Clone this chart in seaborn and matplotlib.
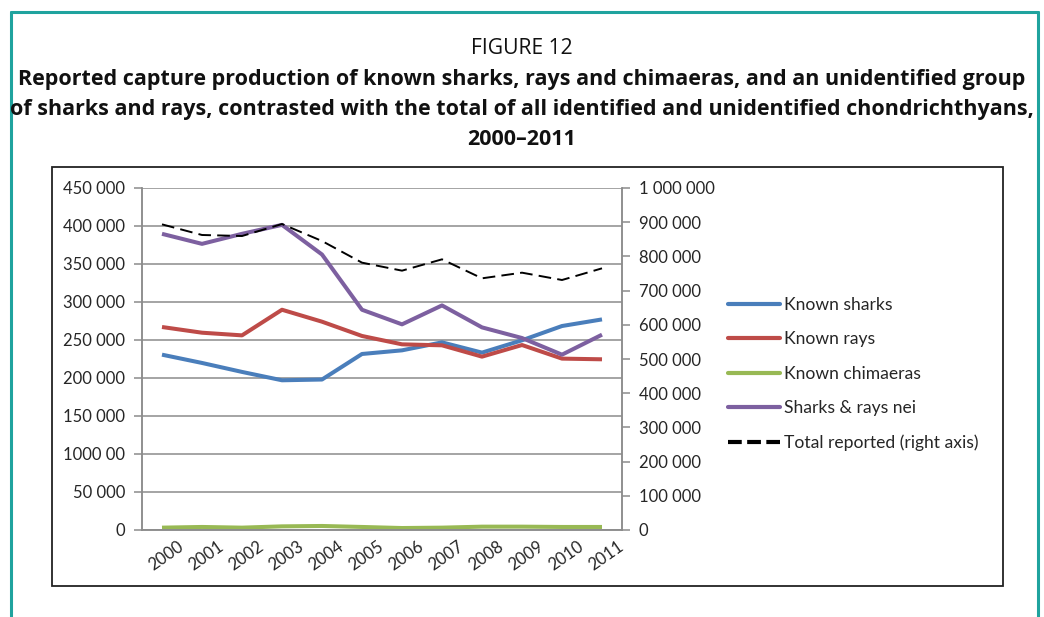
import numpy as np
import pandas as pd
import matplotlib
matplotlib.use("Agg")
import matplotlib.pyplot as plt
from matplotlib.lines import Line2D
from matplotlib.patches import Rectangle
import seaborn as sns

# ---------------- data ----------------
years = ["2000", "2001", "2002", "2003", "2004", "2005",
         "2006", "2007", "2008", "2009", "2010", "2011"]
known_sharks = [230700, 219800, 208000, 197000, 198000, 231600,
                236400, 246900, 233400, 249600, 268400, 277100]
known_rays = [267100, 259600, 256100, 289800, 274100, 255300,
              244300, 243000, 228100, 243400, 225500, 224600]
known_chimaeras = [3100, 4000, 3100, 4800, 5300, 4000,
                   2600, 3100, 4400, 4400, 4000, 4000]
sharks_rays_nei = [389700, 376500, 389700, 401500, 362500, 289800,
                   270600, 295500, 266600, 252600, 230700, 257000]
total_reported = [893700, 862600, 859600, 894700, 845000, 781700,
                  758300, 791400, 735900, 752400, 731000, 765100]

left_ticks = [0, 50000, 100000, 150000, 200000, 250000, 300000, 350000, 400000, 450000]
left_labels = ["0", "50 000", "1000 00", "150 000", "200 000", "250 000",
               "300 000", "350 000", "400 000", "450 000"]
right_ticks = [0, 100000, 200000, 300000, 400000, 500000, 600000, 700000, 800000, 900000, 1000000]
right_labels = ["0", "100 000", "200 000", "300 000", "400 000", "500 000",
                "600 000", "700 000", "800 000", "900 000", "1 000 000"]

series_names = ["Known sharks", "Known rays", "Known chimaeras", "Sharks & rays nei"]
series_values = [known_sharks, known_rays, known_chimaeras, sharks_rays_nei]
series_colors = ["#4A7EBB", "#BE4B48", "#98B954", "#7D60A0"]
total_name = "Total reported (right axis)"

title_top = "FIGURE 12"
title_lines = ["Reported capture production of known sharks, rays and chimaeras, and an unidentified group",
               "of sharks and rays, contrasted with the total of all identified and unidentified chondrichthyans,",
               "2000\u20132011"]

# ---------------- styling ----------------
sns.set_style("white")
plt.rcParams["font.family"] = ["Lato", "DejaVu Sans"]

W, H = 1044, 617
fig = plt.figure(figsize=(W / 100, H / 100), dpi=100)

def fx(px):
    return px / W

def fy(py):
    return 1 - py / H

# outer teal frame (open at the bottom)
fig.add_artist(Line2D([fx(11), fx(1038)], [fy(12), fy(12)], color="#1FA39E", lw=2.2))
fig.add_artist(Line2D([fx(11), fx(11)], [fy(12), 0], color="#1FA39E", lw=2.2))
fig.add_artist(Line2D([fx(1038), fx(1038)], [fy(12), 0], color="#1FA39E", lw=2.2))

# chart box
fig.add_artist(Rectangle((fx(52), fy(586)), fx(1003) - fx(52), fy(167) - fy(586),
                         fill=False, edgecolor="#222222", lw=1.3))

# titles
fig.text(0.5, fy(49), title_top, ha="center", va="center", fontsize=15.2,
         family=["Open Sans", "DejaVu Sans"], color="#111111")
for i, line in enumerate(title_lines):
    fig.text(0.5, fy(80 + 29.7 * i), line, ha="center", va="center", fontsize=15.5,
             fontweight="bold", family=["Open Sans", "DejaVu Sans"], color="#111111")

# axes
ax = fig.add_axes([fx(142), fy(530), fx(622) - fx(142), fy(188) - fy(530)])
ax2 = ax.twinx()

x = np.arange(len(years))
gray = "#8C8C8C"

for name, vals, col in zip(series_names, series_values, series_colors):
    df = pd.DataFrame({"x": x, "y": vals})
    sns.lineplot(data=df, x="x", y="y", ax=ax, color=col, lw=2.9,
                 label=name, legend=False, solid_capstyle="butt")

df_t = pd.DataFrame({"x": x, "y": total_reported})
sns.lineplot(data=df_t, x="x", y="y", ax=ax2, color="black", lw=1.4,
             legend=False, dashes=False)
ax2.lines[0].set_dashes((6.5, 3.2))

ax.set_xlim(-0.5, len(years) - 0.5)
ax.set_ylim(0, 450000)
ax2.set_ylim(0, 1000000)
ax.set_xlabel("")
ax.set_ylabel("")
ax2.set_ylabel("")

ax.set_yticks(left_ticks)
ax.set_yticklabels(left_labels)
ax2.set_yticks(right_ticks)
ax2.set_yticklabels(right_labels)

ax.yaxis.grid(True, color=gray, lw=1.1)
ax.set_axisbelow(True)
ax.xaxis.grid(False)

# x ticks at category boundaries, labels offset by half a category
ax.xaxis.remove_overlapping_locs = False
ax.set_xticks(np.arange(len(years) + 1) - 0.5)
ax.set_xticklabels([""] * (len(years) + 1))
ax.set_xticks(x + 0.5, minor=True)
ax.set_xticklabels(years, minor=True, rotation=35, ha="right",
                   rotation_mode="anchor", va="center", fontsize=12)
ax.tick_params(axis="x", which="major", direction="out", length=5, width=1.1, color=gray)
ax.tick_params(axis="x", which="minor", length=0, pad=11, labelbottom=True)
ax.tick_params(axis="y", direction="out", length=6, width=1.1, color=gray,
               labelsize=12, pad=6, left=True)
ax2.tick_params(axis="y", direction="out", length=6, width=1.1, color=gray,
                labelsize=12, pad=6, right=True)

for a in (ax, ax2):
    a.spines["top"].set_visible(False)
    for s in ("left", "right", "bottom"):
        a.spines[s].set_color(gray)
        a.spines[s].set_linewidth(1.1)
ax.patch.set_alpha(0)

# legend
handles = [Line2D([], [], color=c, lw=3) for c in series_colors]
handles.append(Line2D([], [], color="black", lw=3, dashes=(3.3, 1.3)))
labels = series_names + [total_name]
fig.legend(handles, labels, loc="upper left", bbox_to_anchor=(fx(728), fy(297)),
           frameon=False, fontsize=12.6, handlelength=2.95, handletextpad=0.25,
           labelspacing=1.05, borderpad=0, borderaxespad=0)

fig.savefig("out.png", dpi=100)
